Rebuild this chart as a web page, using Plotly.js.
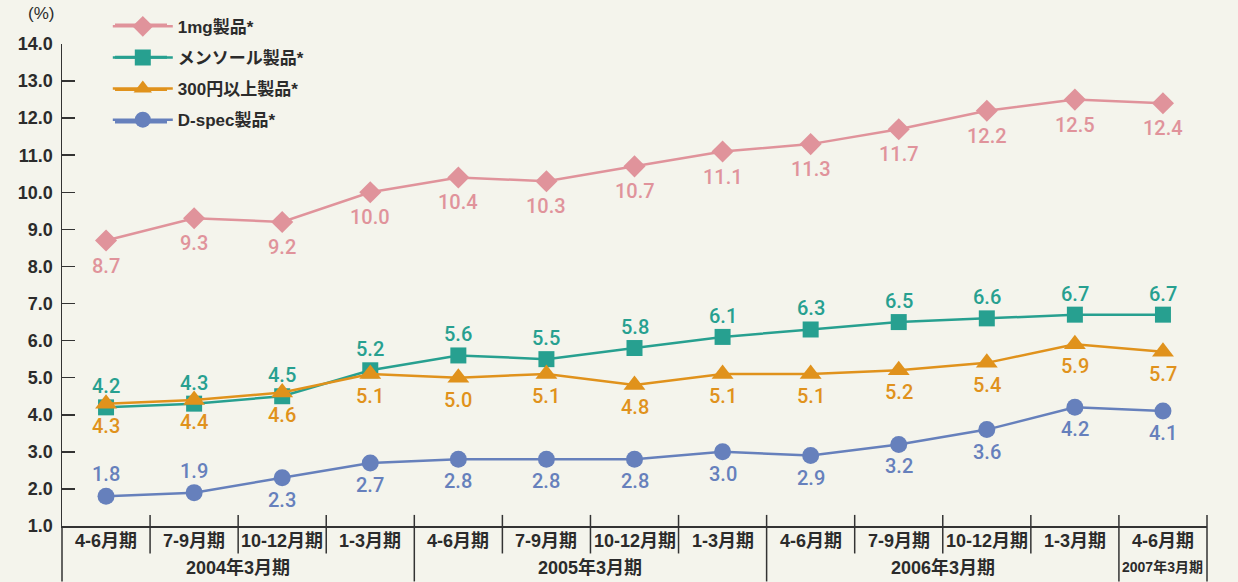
<!DOCTYPE html>
<html>
<head>
<meta charset="utf-8">
<script src="https://cdn.plot.ly/plotly-3.0.1.min.js"></script>
<style>
html,body{margin:0;padding:0;background:#F4F4EC;}
#chart{width:1238px;height:582px;}
</style>
</head>
<body>
<div id="chart"></div>
<script>
// ---- data ----
var quarterLabels = ["4-6月期","7-9月期","10-12月期","1-3月期","4-6月期","7-9月期","10-12月期","1-3月期","4-6月期","7-9月期","10-12月期","1-3月期","4-6月期"];
var yearLabels = ["2004年3月期","2005年3月期","2006年3月期","2007年3月期"];
var yearGroupSizes = [4, 4, 4, 1];

var seriesNames = ["1mg製品*","メンソール製品*","300円以上製品*","D-spec製品*"];
var oneMg   = [8.7, 9.3, 9.2, 10.0, 10.4, 10.3, 10.7, 11.1, 11.3, 11.7, 12.2, 12.5, 12.4];
var menthol = [4.2, 4.3, 4.5, 5.2, 5.6, 5.5, 5.8, 6.1, 6.3, 6.5, 6.6, 6.7, 6.7];
var over300 = [4.3, 4.4, 4.6, 5.1, 5.0, 5.1, 4.8, 5.1, 5.1, 5.2, 5.4, 5.9, 5.7];
var dspec   = [1.8, 1.9, 2.3, 2.7, 2.8, 2.8, 2.8, 3.0, 2.9, 3.2, 3.6, 4.2, 4.1];

// label side: 1 = above, -1 = below
var oneMgSide   = [-1,-1,-1,-1,-1,-1,-1,-1,-1,-1,-1,-1,-1];
var mentholSide = [1,1,1,1,1,1,1,1,1,1,1,1,1];
var over300Side = [-1,-1,-1,-1,-1,-1,-1,-1,-1,-1,-1,-1,-1];
var dspecSide   = [1,1,-1,-1,-1,-1,-1,-1,-1,-1,-1,-1,-1];

// ---- styles ----
var colors = ["#E0939B", "#27A090", "#E0921C", "#6680BC"];
var symbols = ["diamond", "square", "triangle-up", "circle"];
var sizes = [17, 16, 19, 17];
var labelOffsets = [25, 21, 22, 22];
var allSeries = [oneMg, menthol, over300, dspec];
var allSides = [oneMgSide, mentholSide, over300Side, dspecSide];

var latin = "'Liberation Sans', Arial, 'Noto Sans CJK JP', sans-serif";
var labelFont = "Roboto, 'Liberation Sans', Arial, sans-serif";
var jp = "'Liberation Sans', 'Noto Sans CJK JP', sans-serif";
var textColor = "#2b2b2b";
var n = quarterLabels.length;
var xIdx = quarterLabels.map(function(_, i){ return i; });

var traces = allSeries.map(function(vals, k){
  return {
    type: "scatter",
    mode: "lines+markers",
    x: xIdx,
    y: vals,
    name: seriesNames[k],
    legendgroup: "g" + k,
    line: {color: colors[k], width: 2.5},
    marker: {symbol: symbols[k], size: sizes[k], color: colors[k]},
    cliponaxis: false,
    hoverinfo: "x+y"
  };
});

var annotations = [];
// data labels
allSeries.forEach(function(vals, k){
  vals.forEach(function(v, i){
    annotations.push({
      x: i, y: v, xref: "x", yref: "y",
      text: v.toFixed(1),
      showarrow: false,
      yshift: allSides[k][i] * labelOffsets[k],
      xanchor: "center", yanchor: "middle",
      font: {family: labelFont, size: 20, color: colors[k], weight: 500}
    });
  });
});
// quarter labels
quarterLabels.forEach(function(q, i){
  annotations.push({
    x: i, y: 0, xref: "x", yref: "paper",
    text: q, showarrow: false, yshift: -15,
    xanchor: "center", yanchor: "middle",
    font: {family: jp, size: 18, color: textColor, weight: "bold"}
  });
});
// year labels and dividers
var start = 0;
var shapes = [];
var lineColor = "#333333";
function px2paperX(v){ return (v + 0.5) / n; }
yearLabels.forEach(function(yl, g){
  var sz = yearGroupSizes[g];
  var center = start + (sz - 1) / 2;
  annotations.push({
    x: center, y: 0, xref: "x", yref: "paper",
    text: yl, showarrow: false, yshift: -41,
    xanchor: "center", yanchor: "middle",
    font: {family: jp, size: sz === 1 ? 14 : 18, color: textColor, weight: "bold"}
  });
  for (var j = 1; j < sz; j++) {
    shapes.push({type: "line", xref: "paper", yref: "paper",
      x0: px2paperX(start + j - 0.5), x1: px2paperX(start + j - 0.5),
      y0: 0.023, y1: -0.057, line: {color: lineColor, width: 1.5}});
  }
  var endX = px2paperX(start + sz - 0.5);
  shapes.push({type: "line", xref: "paper", yref: "paper",
    x0: endX, x1: endX, y0: 0.023, y1: -0.115, line: {color: lineColor, width: 1.5}});
  start += sz;
});
shapes.push({type: "line", xref: "paper", yref: "paper",
  x0: 0, x1: 0, y0: 0, y1: -0.115, line: {color: lineColor, width: 1.5}});

// longer legend key lines (drawn beneath the legend symbols)
var legendRowY = [1.0394, 0.9724, 0.9054, 0.8382];
legendRowY.forEach(function(ry, k){
  shapes.push({type: "line", xref: "paper", yref: "paper",
    x0: 0.0463, x1: 0.0917, y0: ry, y1: ry,
    line: {color: colors[k], width: 3}});
});

// unit label
annotations.push({
  x: -0.018, y: 1.063, xref: "paper", yref: "paper",
  text: "(%)", showarrow: false, xanchor: "center", yanchor: "middle",
  font: {family: jp, size: 17, color: textColor}
});

var layout = {
  width: 1238, height: 582,
  margin: {l: 62, r: 31, t: 44, b: 56, autoexpand: false},
  paper_bgcolor: "#F4F4EC",
  plot_bgcolor: "rgba(0,0,0,0)",
  showlegend: true,
  legend: {
    x: 0.04, y: 1.073, xanchor: "left", yanchor: "top",
    bgcolor: "rgba(0,0,0,0)",
    traceorder: "grouped",
    tracegroupgap: 6,
    itemwidth: 60,
    font: {family: jp, size: 17, color: textColor, weight: "bold"}
  },
  xaxis: {
    range: [-0.5, 12.5],
    showgrid: false, zeroline: false,
    showticklabels: false, ticks: "",
    showline: true, linecolor: lineColor, linewidth: 1.5,
    fixedrange: true
  },
  yaxis: {
    range: [1, 14],
    tickvals: [1,2,3,4,5,6,7,8,9,10,11,12,13,14],
    tickformat: ".1f",
    ticks: "inside", ticklen: 13, tickwidth: 1.5, tickcolor: lineColor,
    showgrid: false, zeroline: false,
    showline: true, linecolor: lineColor, linewidth: 1.5,
    tickfont: {family: latin, size: 18, color: textColor, weight: "bold"},
    ticklabelstandoff: 4,
    fixedrange: true
  },
  annotations: annotations,
  shapes: shapes
};

Plotly.newPlot("chart", traces, layout, {displayModeBar: false, staticPlot: true});
</script>
</body>
</html>
